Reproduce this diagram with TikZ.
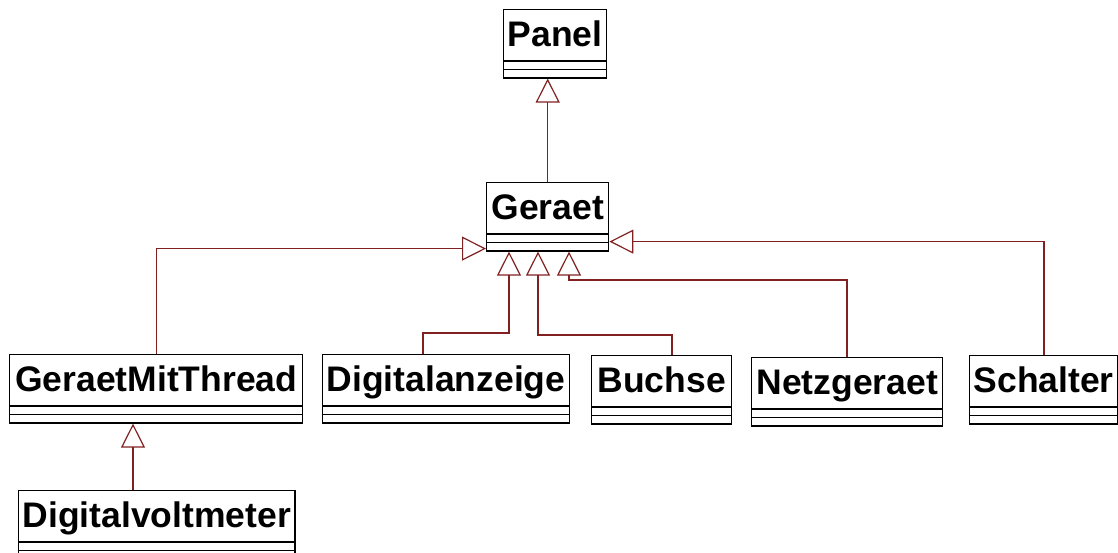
\documentclass[tikz,border=0pt]{standalone}
\usepackage{fontspec}
\setmainfont{Liberation Sans}
\usetikzlibrary{shapes.multipart,arrows.meta,calc}
\definecolor{linkred}{RGB}{128,32,32}
\newcommand\classname[1]{\rule[-14pt]{0pt}{50pt}#1}
\tikzset{
  umlclass/.style={rectangle split, rectangle split parts=3, draw=black,
    line width=1.4pt, anchor=north west, inner xsep=4pt, inner ysep=0pt,
    rectangle split empty part height=7pt, rectangle split empty part depth=0pt,
    font=\bfseries\fontsize{35.5}{36}\selectfont},
  extends/.style={draw=linkred, line width=1.2pt,
    -{Triangle[open,length=24pt,width=24pt]}},
}
\begin{document}
\begin{tikzpicture}[x=1pt,y=1pt]
    \useasboundingbox (0,0) rectangle (1118,552);
    % classes
    \node[umlclass, minimum width=102pt] (Panel) at (503,543) {\classname{Panel}};
    \node[umlclass, minimum width=122pt] (Geraet) at (486,370) {\classname{Geraet}};
    \node[umlclass, minimum width=293pt] (GeraetMitThread) at (9,198) {\classname{GeraetMitThread}};
    \node[umlclass, minimum width=246pt] (Digitalanzeige) at (322,198) {\classname{Digitalanzeige}};
    \node[umlclass, minimum width=140pt] (Buchse) at (591,197) {\classname{Buchse}};
    \node[umlclass, minimum width=191pt] (Netzgeraet) at (751,195) {\classname{Netzgeraet}};
    \node[umlclass, minimum width=145pt] (Schalter) at (969,197) {\classname{Schalter}};
    \node[umlclass, minimum width=276pt] (Digitalvoltmeter) at (18,62) {\classname{Digitalvoltmeter}};
    % attach points
    \coordinate (gLeft) at ($(Geraet.south west)+(0,3)$);
    \coordinate (gRight) at ($(Geraet.south east)+(0,10)$);
    \coordinate (gB1) at ($(Geraet.south west)+(23,0)$);
    \coordinate (gB2) at ($(Geraet.south west)+(52,0)$);
    \coordinate (gB3) at ($(Geraet.south west)+(83,0)$);
    \coordinate (anzeigeTop) at ($(Digitalanzeige.north west)+(101,0)$);
    \coordinate (buchseTop) at ($(Buchse.north west)+(81,0)$);
    \coordinate (netzTop) at ($(Netzgeraet.north west)+(96,0)$);
    \coordinate (schalterTop) at ($(Schalter.north west)+(75,0)$);
    \coordinate (voltTop) at ($(Digitalvoltmeter.north west)+(115,0)$);
    % generalisations
    \draw[extends] (Geraet.north) -- (Geraet.north |- Panel.south);
    \draw[extends] (GeraetMitThread.north) |- (gLeft);
    \draw[extends] (schalterTop) |- (gRight);
    \draw[extends] (anzeigeTop) -- ++(0,21) -| (gB1);
    \draw[extends] (buchseTop) -- ++(0,20) -| (gB2);
    \draw[extends] (netzTop) -- ++(0,77) -| (gB3);
    \draw[extends] (voltTop) -- (voltTop |- GeraetMitThread.south);
\end{tikzpicture}
\end{document}
